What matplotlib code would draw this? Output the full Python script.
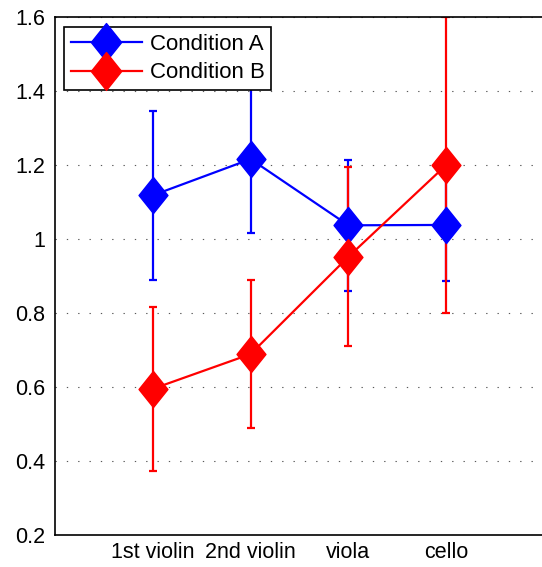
import matplotlib.pyplot as plt
import numpy as np
from matplotlib.path import Path

plt.rcParams["font.family"] = ["Liberation Sans", "DejaVu Sans"]

instruments = ["1st violin", "2nd violin", "viola", "cello"]
cond_a = [1.118, 1.216, 1.037, 1.038]
cond_a_err = [0.228, 0.200, 0.177, 0.151]
cond_b = [0.595, 0.689, 0.952, 1.200]
cond_b_err = [0.222, 0.200, 0.242, 0.400]
yticks = [0.2, 0.4, 0.6, 0.8, 1.0, 1.2, 1.4, 1.6]
ytick_labels = ["0.2", "0.4", "0.6", "0.8", "1", "1.2", "1.4", "1.6"]

# MATLAB-like diamond, a bit narrower than tall
diamond = Path([(0, 1), (0.8, 0), (0, -1), (-0.8, 0), (0, 1)],
               [Path.MOVETO, Path.LINETO, Path.LINETO, Path.LINETO, Path.CLOSEPOLY])

fig = plt.figure(figsize=(5.42, 5.67), dpi=100)
ax = fig.add_axes([55 / 542, 32 / 567, 489 / 542, 518 / 567])

x = np.arange(1, len(instruments) + 1)
for vals, errs, col, lab in [(cond_a, cond_a_err, "blue", "Condition A"),
                             (cond_b, cond_b_err, "red", "Condition B")]:
    ax.errorbar(x, vals, yerr=errs, color=col, lw=1.6, elinewidth=1.6,
                capsize=3, capthick=1.6, marker=diamond, markersize=26,
                markeredgecolor=col, markerfacecolor=col, label=lab)

ax.set_xlim(0, 5)
ax.set_ylim(0.2, 1.6)
ax.set_xticks(x)
ax.set_xticklabels(instruments)
ax.set_yticks(yticks)
ax.set_yticklabels(ytick_labels)
ax.tick_params(length=0, labelsize=15.5)
ax.tick_params(axis="y", pad=7)
ax.tick_params(axis="x", pad=5)
ax.yaxis.grid(True, linestyle=(0, (1.2, 9)), color="0.35", lw=0.8)
ax.set_axisbelow(True)
for s in ["left", "bottom", "top"]:
    ax.spines[s].set_linewidth(1.2)
ax.spines["right"].set_visible(False)

leg = ax.legend(loc="upper left", bbox_to_anchor=(9 / 489, 1 - 10 / 518), fontsize=16,
                handlelength=3.2, fancybox=False, framealpha=1, markerscale=1.05,
                borderpad=0.3, labelspacing=0.35, handletextpad=0.35,
                borderaxespad=0)
leg.get_frame().set_edgecolor("black")
leg.get_frame().set_linewidth(1.2)

fig.savefig("out.png", dpi=100)
